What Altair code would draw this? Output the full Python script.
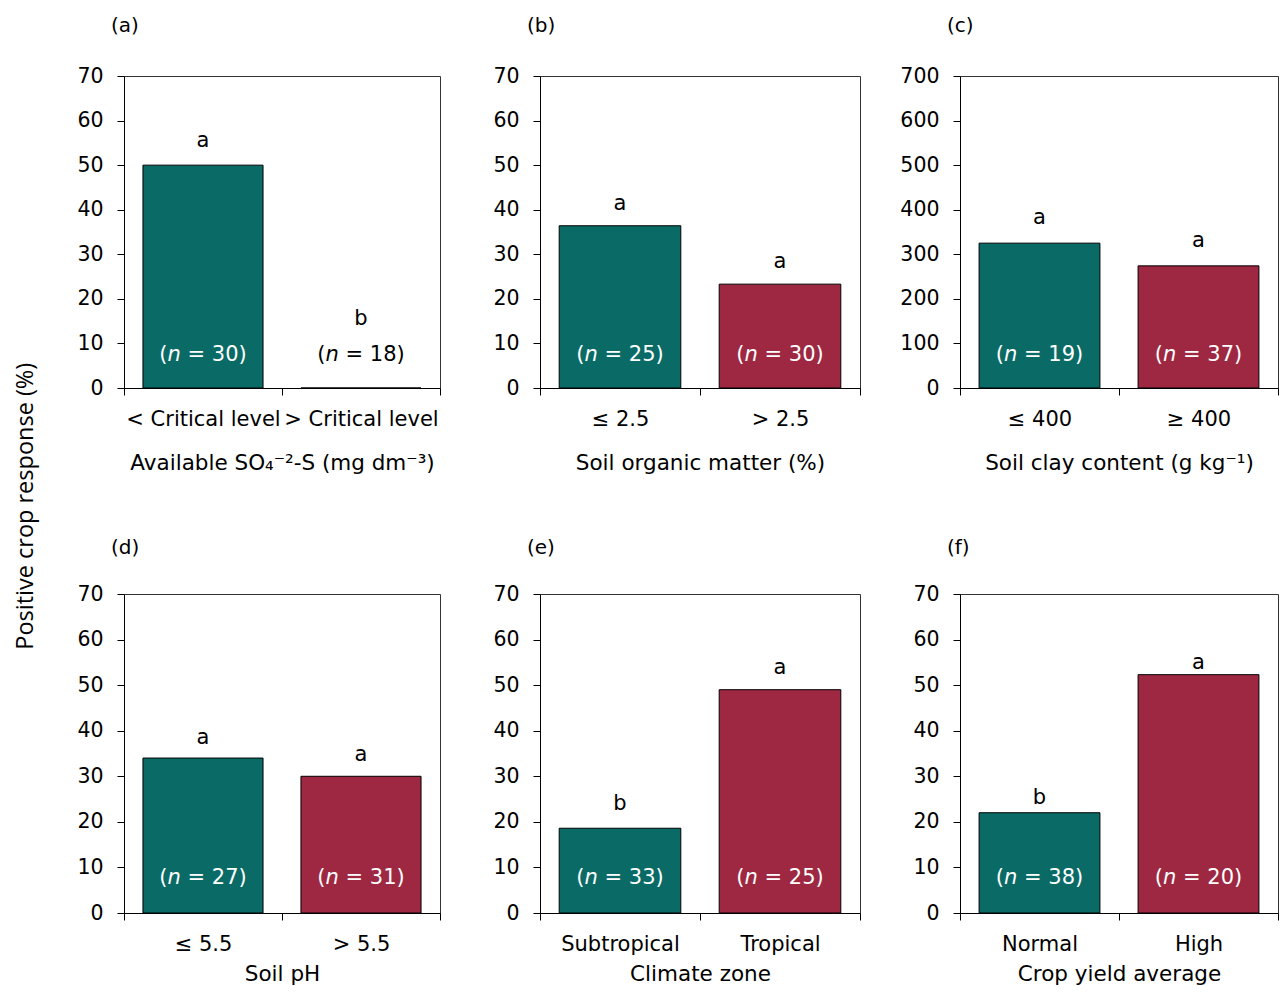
import altair as alt
import pandas as pd

# ---------------- data ----------------
panel_labels = ["(a)", "(b)", "(c)", "(d)", "(e)", "(f)"]
axis_titles = [
    "Available SO\u2084\u207b\u00b2-S (mg dm\u207b\u00b3)",
    "Soil organic matter (%)",
    "Soil clay content (g kg\u207b\u00b9)",
    "Soil pH",
    "Climate zone",
    "Crop yield average",
]
categories = [
    ["< Critical level", "> Critical level"],
    ["\u2264 2.5", "> 2.5"],
    ["\u2264 400", "\u2265 400"],
    ["\u2264 5.5", "> 5.5"],
    ["Subtropical", "Tropical"],
    ["Normal", "High"],
]
values = [
    [50.0, 0.0],
    [36.4, 23.3],
    [325.0, 274.0],
    [34.0, 30.0],
    [18.6, 49.0],
    [22.0, 52.3],
]
n_counts = [[30, 18], [25, 30], [19, 37], [27, 31], [33, 25], [38, 20]]
letters = [["a", "b"], ["a", "a"], ["a", "a"], ["a", "a"], ["b", "a"], ["b", "a"]]
letter_y = [
    [54.1, 14.2],
    [39.9, 26.9],
    [368.0, 317.0],
    [37.1, 33.3],
    [22.7, 52.5],
    [24.0, 53.6],
]
y_max = [70, 70, 700, 70, 70, 70]
y_step = [10, 10, 100, 10, 10, 10]

# ---------------- layout / style ----------------
TEAL = "#0a6b66"
RED = "#9e2842"
FONT = "DejaVu Sans"
widths = [316, 320, 318, 316, 320, 318]
heights = [312, 312, 312, 319, 319, 319]
title_pad = [23, 23, 23, 9, 9, 9]
title_off = [30, 30, 30, 26, 26, 26]
n_dy = [-27, -27, -27, -29, -29, -29]
NFS = 21  # font size of n labels
w_open = 0.390 * NFS
w_n = 0.634 * NFS
w_sp = 0.318 * NFS
w_rest = 2.818 * NFS
tot = w_open + w_n + w_sp + w_rest
dx_open = -tot / 2 + w_open
dx_n = dx_open
dx_rest = dx_open + w_n + w_sp


def make_panel(i):
    df = pd.DataFrame(
        {
            "cat": categories[i],
            "idx": [0, 1],
            "value": values[i],
            "letter": letters[i],
            "ly": letter_y[i],
            "zero": [0, 0],
            "open": ["(", "("],
            "ital": ["n", "n"],
            "rest": [f"= {k})" for k in n_counts[i]],
        }
    )
    xscale = alt.Scale(paddingInner=0, paddingOuter=0)
    xaxis = alt.Axis(
        title=axis_titles[i],
        tickBand="extent",
        labelAngle=0,
        labelPadding=13,
        labelFontSize=21,
        titleFontSize=21.5,
        titlePadding=title_pad[i],
    )
    yscale = alt.Scale(domain=[0, y_max[i]], nice=False)
    yaxis = alt.Axis(
        values=list(range(0, y_max[i] + 1, y_step[i])),
        title=None,
        labelPadding=14,
        labelFontSize=20.5,
    )
    x = alt.X("cat:N", sort=categories[i], scale=xscale, axis=xaxis)

    def Y(field):
        return alt.Y(field, scale=yscale, axis=yaxis)

    base = alt.Chart(df)
    bars = base.mark_bar(
        width=alt.RelativeBandSize(0.76), stroke="black", strokeWidth=1
    ).encode(
        x=x,
        y=Y("value:Q"),
        color=alt.Color(
            "idx:N", scale=alt.Scale(domain=[0, 1], range=[TEAL, RED]), legend=None
        ),
    )
    lets = base.mark_text(
        fontSize=21, baseline="alphabetic", color="black", font=FONT
    ).encode(x=x, y=Y("ly:Q"), text="letter:N")
    ncolor = alt.condition("datum.value > 0", alt.value("white"), alt.value("black"))
    t_open = base.mark_text(
        fontSize=NFS, baseline="alphabetic", align="right", dx=dx_open, dy=n_dy[i], font=FONT
    ).encode(x=x, y=Y("zero:Q"), text="open:N", color=ncolor)
    t_n = base.mark_text(
        fontSize=NFS, baseline="alphabetic", align="left", dx=dx_n, dy=n_dy[i],
        fontStyle="italic", font=FONT,
    ).encode(x=x, y=Y("zero:Q"), text="ital:N", color=ncolor)
    t_rest = base.mark_text(
        fontSize=NFS, baseline="alphabetic", align="left", dx=dx_rest, dy=n_dy[i], font=FONT
    ).encode(x=x, y=Y("zero:Q"), text="rest:N", color=ncolor)

    return alt.layer(bars, lets, t_open, t_n, t_rest).properties(
        width=widths[i],
        height=heights[i],
        title=alt.TitleParams(
            panel_labels[i],
            anchor="start",
            frame="group",
            dx=-13,
            offset=title_off[i],
            fontSize=20,
            fontWeight="normal",
            font=FONT,
            color="black",
        ),
    )


panels = [make_panel(i) for i in range(6)]

chart = (
    alt.concat(
        *panels,
        columns=3,
        spacing={"row": 206, "column": 100},
        bounds="flush",
    )
    .resolve_scale(x="independent", y="independent", color="independent")
    .properties(
        padding={"left": 5, "top": 7, "right": 0, "bottom": 0},
        title=alt.TitleParams(
            "Positive crop response (%)",
            orient="left",
            anchor="middle",
            fontSize=23.5,
            fontWeight="normal",
            font="Open Sans",
            color="black",
            offset=39,
            dx=-6,
        ),
    )
    .configure_view(stroke="#333333", strokeWidth=1)
    .configure_axis(
        labelFont=FONT,
        labelFontSize=20,
        labelColor="black",
        titleFont=FONT,
        titleFontSize=20,
        titleFontWeight="normal",
        titleColor="black",
        domainColor="black",
        tickColor="black",
        tickSize=7,
        grid=False,
    )
)

chart.save("out.html", embed_options={"renderer": "svg", "actions": False})
